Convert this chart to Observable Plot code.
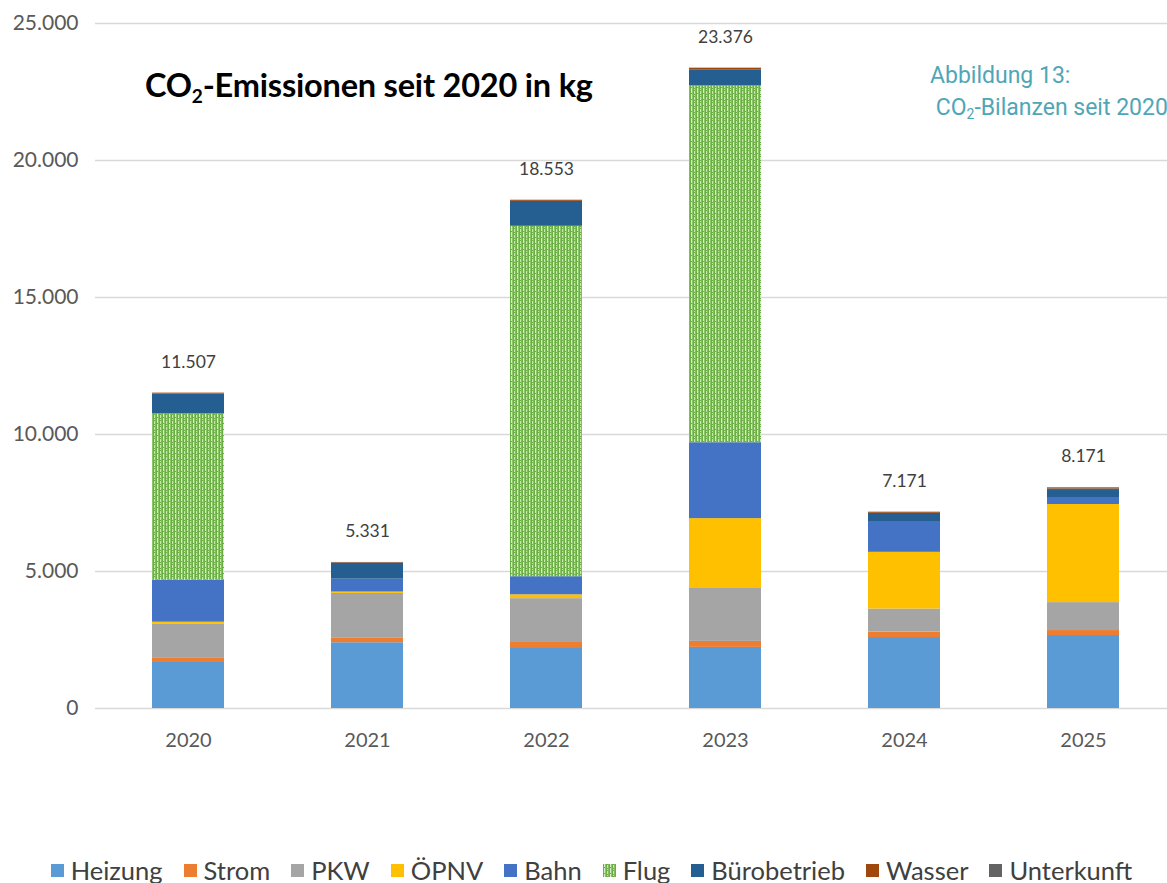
<!DOCTYPE html>
<html>
<head>
<meta charset="utf-8">
<script src="https://cdn.jsdelivr.net/npm/d3@7"></script>
<script src="https://cdn.jsdelivr.net/npm/@observablehq/plot@0.6"></script>
<style>
  html, body { margin: 0; padding: 0; background: #fff; overflow: hidden; width: 1167px; height: 883px; }
  #wrap { position: relative; width: 1167px; height: 883px; }
  #title { position: absolute; left: 145px; top: 65px; font-family: Lato, "Open Sans", sans-serif; font-weight: 700; font-size: 32.5px; color: #000; white-space: nowrap; letter-spacing: -0.2px; }
  #title sub { font-size: 19px; vertical-align: -6px; line-height: 0; }
  #note { position: absolute; left: 930px; top: 60px; font-family: Roboto, Inter, sans-serif; font-size: 23px; color: #4fa6b6; line-height: 32px; white-space: nowrap; }
  #note sub { font-size: 14px; vertical-align: -4px; line-height: 0; }
  #legend { position: absolute; left: 0; width: 1167px; top: 855px; display: flex; justify-content: center; gap: 21px; font-family: Lato, "Open Sans", sans-serif; font-size: 25.5px; color: #404040; padding-left: 16px; box-sizing: border-box; }
  .item { display: flex; align-items: center; gap: 7px; white-space: nowrap; }
  .sw { width: 13px; height: 13px; display: inline-block; }
</style>
</head>
<body>
<svg width="0" height="0" style="position:absolute">
  <defs>
    <pattern id="flugPattern" patternUnits="userSpaceOnUse" width="6" height="6">
      <rect width="6" height="6" fill="#6cae46"></rect>
      <rect x="1" y="0" width="1" height="3" fill="#d6edc6"></rect>
      <rect x="1" y="4" width="1" height="2" fill="#d6edc6"></rect>
      <rect x="4" y="1" width="1" height="3" fill="#c8e5b2"></rect>
      <rect x="4" y="5" width="1" height="1" fill="#c8e5b2"></rect>
      <rect x="2" y="0" width="1" height="6" fill="#8cc468"></rect>
      <rect x="5" y="0" width="1" height="6" fill="#83bd5e"></rect>
    </pattern>
  </defs>
</svg>
<div id="wrap">
  <div id="chart"></div>
  <div id="title">CO<sub>2</sub>-Emissionen seit 2020 in kg</div>
  <div id="note">Abbildung 13:<br>&nbsp;CO<sub>2</sub>-Bilanzen seit 2020</div>
  <div id="legend"></div>
</div>
<script>
const years = ["2020", "2021", "2022", "2023", "2024", "2025"];
const categories = ["Heizung", "Strom", "PKW", "ÖPNV", "Bahn", "Flug", "Bürobetrieb", "Wasser", "Unterkunft"];
const colors = ["#5b9bd5", "#ed7d31", "#a5a5a5", "#ffc000", "#4472c4", "url(#flugPattern)", "#255e91", "#9e480e", "#636363"];

const heizung    = [1680, 2400, 2190, 2230, 2590, 2665];
const strom      = [150, 180, 220, 220, 200, 180];
const pkw        = [1240, 1620, 1600, 1930, 840, 1020];
const oepnv      = [80, 50, 140, 2550, 2070, 3580];
const bahn       = [1530, 470, 660, 2770, 1095, 255];
const flug       = [6070, 0, 12790, 13020, 0, 0];
const buero      = [730, 590, 910, 590, 330, 255];
const wasser     = [30, 20, 40, 60, 40, 60];
const unterkunft = [0, 0, 0, 0, 0, 40];
const totals     = [11507, 5331, 18553, 23376, 7171, 8171];
const yTicks     = [0, 5000, 10000, 15000, 20000, 25000];

const series = [heizung, strom, pkw, oepnv, bahn, flug, buero, wasser, unterkunft];
const rows = [];
categories.forEach((c, i) => {
  years.forEach((y, j) => rows.push({year: y, cat: c, value: series[i][j]}));
});
const barTops = years.map((y, j) => series.reduce((s, a) => s + a[j], 0));
const labels = years.map((y, j) => ({year: y, top: barTops[j], total: totals[j]}));

const de = d3.formatLocale({decimal: ",", thousands: ".", grouping: [3], currency: ["", " €"]});
const fmt = de.format(",");

const chart = Plot.plot({
  width: 1167,
  height: 790,
  marginTop: 23,
  marginBottom: 82,
  marginLeft: 95,
  marginRight: 0,
  style: {fontFamily: "Lato, 'Open Sans', sans-serif", background: "#fff"},
  x: {domain: years, range: [98, 1172], paddingInner: 0.6, paddingOuter: 0.3, label: null},
  y: {domain: [0, 25000], label: null},
  color: {type: "ordinal", domain: categories, range: colors},
  marks: [
    Plot.ruleY(yTicks, {stroke: "#d9d9d9", strokeWidth: 1.5}),
    Plot.axisY({ticks: yTicks, tickSize: 0, tickPadding: 17, tickFormat: fmt, fontSize: 21, fill: "#595959", label: null}),
    Plot.axisX({tickSize: 0, tickPadding: 24, fontSize: 20, fill: "#595959", label: null}),
    Plot.barY(rows, {x: "year", y: "value", fill: "cat", order: categories}),
    Plot.text(labels, {x: "year", y: "top", text: d => fmt(d.total), dy: -31, fontSize: 17.5, fill: "#404040"})
  ]
});
document.getElementById("chart").appendChild(chart);

const legend = document.getElementById("legend");
categories.forEach((c, i) => {
  const item = document.createElement("div");
  item.className = "item";
  const sw = document.createElementNS("http://www.w3.org/2000/svg", "svg");
  sw.setAttribute("width", 13);
  sw.setAttribute("height", 13);
  sw.setAttribute("class", "sw");
  const r = document.createElementNS("http://www.w3.org/2000/svg", "rect");
  r.setAttribute("width", 13);
  r.setAttribute("height", 13);
  r.setAttribute("fill", colors[i]);
  sw.appendChild(r);
  item.appendChild(sw);
  const t = document.createElement("span");
  t.textContent = c;
  item.appendChild(t);
  legend.appendChild(item);
});
</script>
</body>
</html>
